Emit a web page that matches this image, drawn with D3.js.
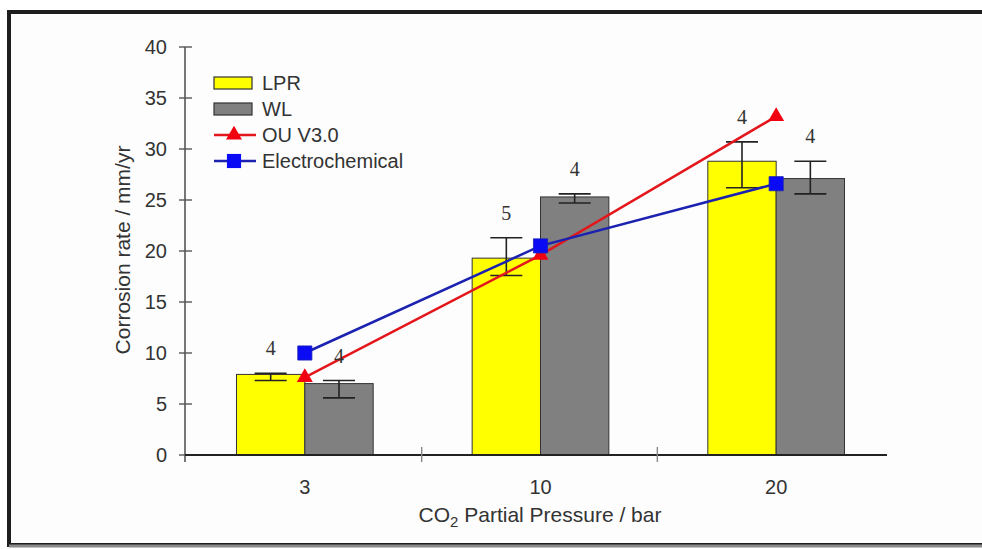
<!DOCTYPE html>
<html lang="en">
  <head>
    <meta charset="UTF-8" />
    <title>corrosion-rate</title>
    <style>
      body {
        margin: 0;
        background: #fff;
        font-family: "Liberation Sans", Arial, sans-serif;
      }
      svg {
        display: block;
      }
      .tick-label {
        font-size: 20px;
        fill: #333;
      }
      .axis-title {
        font-size: 21px;
        fill: #333;
      }
      .count-label {
        font-family: "Liberation Serif", "Times New Roman", serif;
        font-size: 20px;
        fill: #333;
        text-anchor: middle;
      }
      .legend-label {
        font-size: 20px;
        fill: #333;
      }
    </style>
  </head>
  <body>
    <script src="https://cdn.jsdelivr.net/npm/d3@7"></script>
    <script>
      // values
      const categories = ["3", "10", "20"];
      const lpr = [7.9, 19.3, 28.8];
      const lprLow = [7.3, 17.6, 26.2];
      const lprHigh = [8.0, 21.3, 30.7];
      const wl = [7.0, 25.3, 27.1];
      const wlLow = [5.6, 24.7, 25.6];
      const wlHigh = [7.3, 25.6, 28.8];
      const ou = [7.6, 19.6, 33.2];
      const electro = [10.0, 20.5, 26.6];
      const lprCount = [4, 5, 4];
      const wlCount = [4, 4, 4];
      const yTicks = [0, 5, 10, 15, 20, 25, 30, 35, 40];
      const seriesNames = ["LPR", "WL", "OU V3.0", "Electrochemical"];

      const W = 982;
      const H = 549;
      const axisX = 185; // y axis position
      const axisEnd = 887; // end of x axis line

      const svg = d3.select("body").append("svg").attr("width", W).attr("height", H);

      // frame
      svg.append("rect")
        .attr("x", 9).attr("y", 12)
        .attr("width", 985).attr("height", 533)
        .attr("fill", "#fdfdfd")
        .attr("stroke", "#1e1e1e")
        .attr("stroke-width", 4);
      svg.append("line")
        .attr("x1", 9).attr("x2", W)
        .attr("y1", 546).attr("y2", 546)
        .attr("stroke", "#8a8a8a").attr("stroke-width", 3);

      const y = d3.scaleLinear().domain([0, 40]).range([455, 47]);
      const x = d3.scaleBand().domain(categories).range([187, 894]);
      const bw = x.bandwidth();
      const x1 = d3.scaleBand().domain(["LPR", "WL"]).range([bw * 0.21, bw * 0.79]);
      const cx = c => x(c) + bw / 2;

      const bars = categories.flatMap((c, i) => [
        { c, s: "LPR", v: lpr[i], lo: lprLow[i], hi: lprHigh[i], n: lprCount[i], fill: "#ffff00" },
        { c, s: "WL", v: wl[i], lo: wlLow[i], hi: wlHigh[i], n: wlCount[i], fill: "#808080" }
      ]);

      // y axis
      const yAxis = svg.append("g");
      yAxis.append("line")
        .attr("x1", axisX).attr("x2", axisX)
        .attr("y1", y(40)).attr("y2", y(0) + 7)
        .attr("stroke", "#555").attr("stroke-width", 1.6);
      yAxis.selectAll(".yt")
        .data(yTicks)
        .enter()
        .append("line")
        .attr("x1", axisX - 6).attr("x2", axisX + 7)
        .attr("y1", d => y(d)).attr("y2", d => y(d))
        .attr("stroke", "#555").attr("stroke-width", 1.4);
      yAxis.selectAll("text")
        .data(yTicks)
        .enter()
        .append("text")
        .attr("class", "tick-label")
        .attr("x", 167)
        .attr("y", d => y(d))
        .attr("dy", "0.36em")
        .attr("text-anchor", "end")
        .text(d => d);

      svg.append("text")
        .attr("class", "axis-title")
        .attr("transform", "translate(130,250) rotate(-90)")
        .attr("text-anchor", "middle")
        .text("Corrosion rate / mm/yr");

      // bars
      svg.append("g")
        .selectAll("rect")
        .data(bars)
        .enter()
        .append("rect")
        .attr("x", d => x(d.c) + x1(d.s))
        .attr("width", x1.bandwidth())
        .attr("y", d => y(d.v))
        .attr("height", d => y(0) - y(d.v))
        .attr("fill", d => d.fill)
        .attr("stroke", "#333")
        .attr("stroke-width", 1);

      // error bars
      const err = svg.append("g").attr("stroke", "#222").attr("stroke-width", 1.6);
      const ex = d => x(d.c) + x1(d.s) + x1.bandwidth() / 2;
      err.selectAll(".v")
        .data(bars)
        .enter()
        .append("line")
        .attr("x1", ex).attr("x2", ex)
        .attr("y1", d => y(d.lo)).attr("y2", d => y(d.hi));
      ["lo", "hi"].forEach(k => {
        err.selectAll(".c" + k)
          .data(bars)
          .enter()
          .append("line")
          .attr("x1", d => ex(d) - 16).attr("x2", d => ex(d) + 16)
          .attr("y1", d => y(d[k])).attr("y2", d => y(d[k]));
      });

      // x axis
      svg.append("line")
        .attr("x1", axisX).attr("x2", axisEnd)
        .attr("y1", y(0)).attr("y2", y(0))
        .attr("stroke", "#222").attr("stroke-width", 2);
      svg.selectAll(".sep")
        .data(categories.slice(1))
        .enter()
        .append("line")
        .attr("x1", d => x(d) - 1).attr("x2", d => x(d) - 1)
        .attr("y1", y(0) - 8).attr("y2", y(0) + 7)
        .attr("stroke", "#888").attr("stroke-width", 1.4);
      svg.selectAll(".xl")
        .data(categories)
        .enter()
        .append("text")
        .attr("class", "tick-label")
        .attr("x", cx)
        .attr("y", 494)
        .attr("text-anchor", "middle")
        .text(d => d);

      const xTitle = svg.append("text")
        .attr("class", "axis-title")
        .attr("x", 540)
        .attr("y", 522)
        .attr("text-anchor", "middle");
      xTitle.append("tspan").text("CO");
      xTitle.append("tspan").attr("font-size", "15px").attr("dy", 5).text("2");
      xTitle.append("tspan").attr("dy", -5).text(" Partial Pressure / bar");

      // lines
      const line = d3.line().x(d => cx(d.c)).y(d => y(d.v));
      const ouPts = categories.map((c, i) => ({ c, v: ou[i] }));
      const elPts = categories.map((c, i) => ({ c, v: electro[i] }));
      const tri = d3.symbol().type(d3.symbolTriangle).size(110);
      const sq = d3.symbol().type(d3.symbolSquare).size(200);

      svg.append("path")
        .datum(ouPts)
        .attr("d", line)
        .attr("fill", "none")
        .attr("stroke", "#e3161c")
        .attr("stroke-width", 2.5);
      svg.append("path")
        .datum(elPts)
        .attr("d", line)
        .attr("fill", "none")
        .attr("stroke", "#1c22b0")
        .attr("stroke-width", 2.5);
      svg.selectAll(".tri")
        .data(ouPts)
        .enter()
        .append("path")
        .attr("d", tri)
        .attr("transform", d => `translate(${cx(d.c)},${y(d.v)})`)
        .attr("fill", "#f00010");
      svg.selectAll(".sq")
        .data(elPts)
        .enter()
        .append("path")
        .attr("d", sq)
        .attr("transform", d => `translate(${cx(d.c)},${y(d.v)})`)
        .attr("fill", "#0a0af5")
        .attr("stroke", "#1c22b0")
        .attr("stroke-width", 0.8);

      // sample counts
      svg.selectAll(".count-label")
        .data(bars)
        .enter()
        .append("text")
        .attr("class", "count-label")
        .attr("x", ex)
        .attr("y", d => y(d.hi) - 18)
        .text(d => d.n);

      // legend
      const legend = svg.append("g");
      const legY = d3.scalePoint().domain(seriesNames).range([83, 161]);
      legend.selectAll("rect")
        .data(bars.slice(0, 2))
        .enter()
        .append("rect")
        .attr("x", 214)
        .attr("y", d => legY(d.s) - 6)
        .attr("width", 38)
        .attr("height", 12)
        .attr("fill", d => d.fill)
        .attr("stroke", "#333")
        .attr("stroke-width", 1.2);
      legend.append("line")
        .attr("x1", 214).attr("x2", 256)
        .attr("y1", legY("OU V3.0")).attr("y2", legY("OU V3.0"))
        .attr("stroke", "#e3161c").attr("stroke-width", 2.5);
      legend.append("path")
        .attr("d", tri)
        .attr("transform", `translate(234,${legY("OU V3.0")})`)
        .attr("fill", "#f00010");
      legend.append("line")
        .attr("x1", 214).attr("x2", 256)
        .attr("y1", legY("Electrochemical")).attr("y2", legY("Electrochemical"))
        .attr("stroke", "#1c22b0").attr("stroke-width", 2.5);
      legend.append("path")
        .attr("d", sq)
        .attr("transform", `translate(234,${legY("Electrochemical")})`)
        .attr("fill", "#0a0af5");
      legend.selectAll("text")
        .data(seriesNames)
        .enter()
        .append("text")
        .attr("class", "legend-label")
        .attr("x", 262)
        .attr("y", d => legY(d))
        .attr("dy", "0.36em")
        .text(d => d);
    </script>
  </body>
</html>
